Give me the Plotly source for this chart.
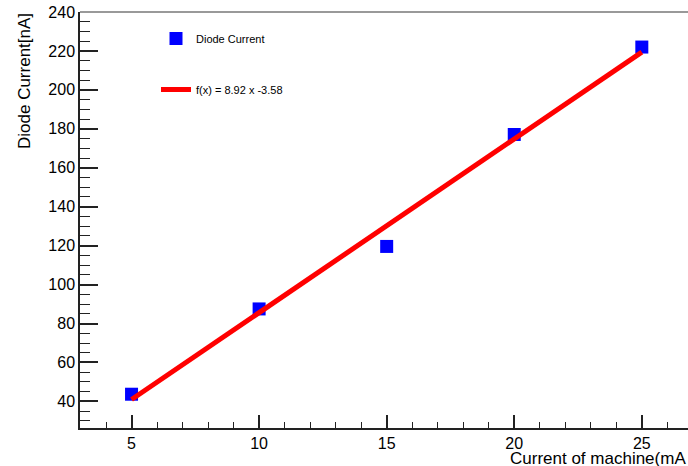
import plotly.graph_objects as go

# Data
machine_current = [5, 10, 15, 20, 25]
diode_current = [43.7, 87.5, 119.6, 177.1, 222.0]
fit_x = [5, 25]
fit_y = [40.98, 219.42]
fit_label = "f(x) = 8.92 x -3.58"
series_label = "Diode Current"

FONT = "Liberation Sans, Arial, Helvetica, sans-serif"

fig = go.Figure()
fig.add_trace(go.Scatter(
    x=machine_current, y=diode_current, mode="markers", name=series_label,
    marker=dict(symbol="square", size=13, color="#0000ff", line=dict(width=0)),
    legendgroup="a",
))
fig.add_trace(go.Scatter(
    x=fit_x, y=fit_y, mode="lines", name=fit_label,
    line=dict(color="#ff0000", width=5),
    legendgroup="b",
))

W, H = 688, 466
ml, mr, mt, mb = 80, 0, 12, 38
pw, ph = W - ml - mr, H - mt - mb

def px_x(p):
    return (p - ml) / pw

def px_y(p):
    return (H - mb - p) / ph

fig.update_layout(
    width=W, height=H,
    margin=dict(l=ml, r=mr, t=mt, b=mb, pad=0),
    paper_bgcolor="white", plot_bgcolor="white",
    font=dict(family=FONT, color="#000", size=16),
    showlegend=True,
    legend=dict(
        x=px_x(156), y=px_y(24), xanchor="left", yanchor="top",
        bgcolor="rgba(0,0,0,0)", borderwidth=0,
        font=dict(family=FONT, size=11, color="#000"),
        traceorder="grouped", tracegroupgap=32, itemwidth=30,
    ),
    xaxis=dict(
        range=[2.98, 26.81], showgrid=False, zeroline=False,
        showline=True, linecolor="#222", linewidth=1.5,
        ticks="inside", ticklen=13, tickwidth=1.5, tickcolor="#222",
        tick0=0, dtick=5,
        minor=dict(ticks="inside", ticklen=6, tickwidth=1.2, tickcolor="#222", dtick=1, tick0=0, showgrid=False),
        tickfont=dict(family=FONT, size=16, color="#000"),
    ),
    yaxis=dict(
        range=[26.35, 240], showgrid=False, zeroline=False,
        showline=True, linecolor="#222", linewidth=1.5,
        ticks="inside", ticklen=18, tickwidth=1.5, tickcolor="#222",
        tick0=0, dtick=20,
        minor=dict(ticks="inside", ticklen=10, tickwidth=1.2, tickcolor="#222", dtick=5, tick0=0, showgrid=False),
        tickfont=dict(family=FONT, size=16, color="#000"),
    ),
    shapes=[dict(type="line", xref="paper", yref="paper", x0=0, x1=1, y0=1, y1=1,
                 line=dict(color="#777", width=1.5))],
    annotations=[
        dict(text="Diode Current[nA]", xref="paper", yref="paper",
             x=px_x(25), y=px_y(81), xanchor="center", yanchor="middle",
             textangle=-90, showarrow=False, font=dict(family=FONT, size=17, color="#000")),
        dict(text="Current of machine(mA", xref="paper", yref="paper",
             x=1, y=px_y(458), xanchor="right", yanchor="middle",
             showarrow=False, font=dict(family=FONT, size=17, color="#000")),
    ],
)

fig.write_html(
    "out.html",
    config={"displayModeBar": False},
    post_script="document.body.style.margin='0';document.body.style.overflow='hidden';",
)
